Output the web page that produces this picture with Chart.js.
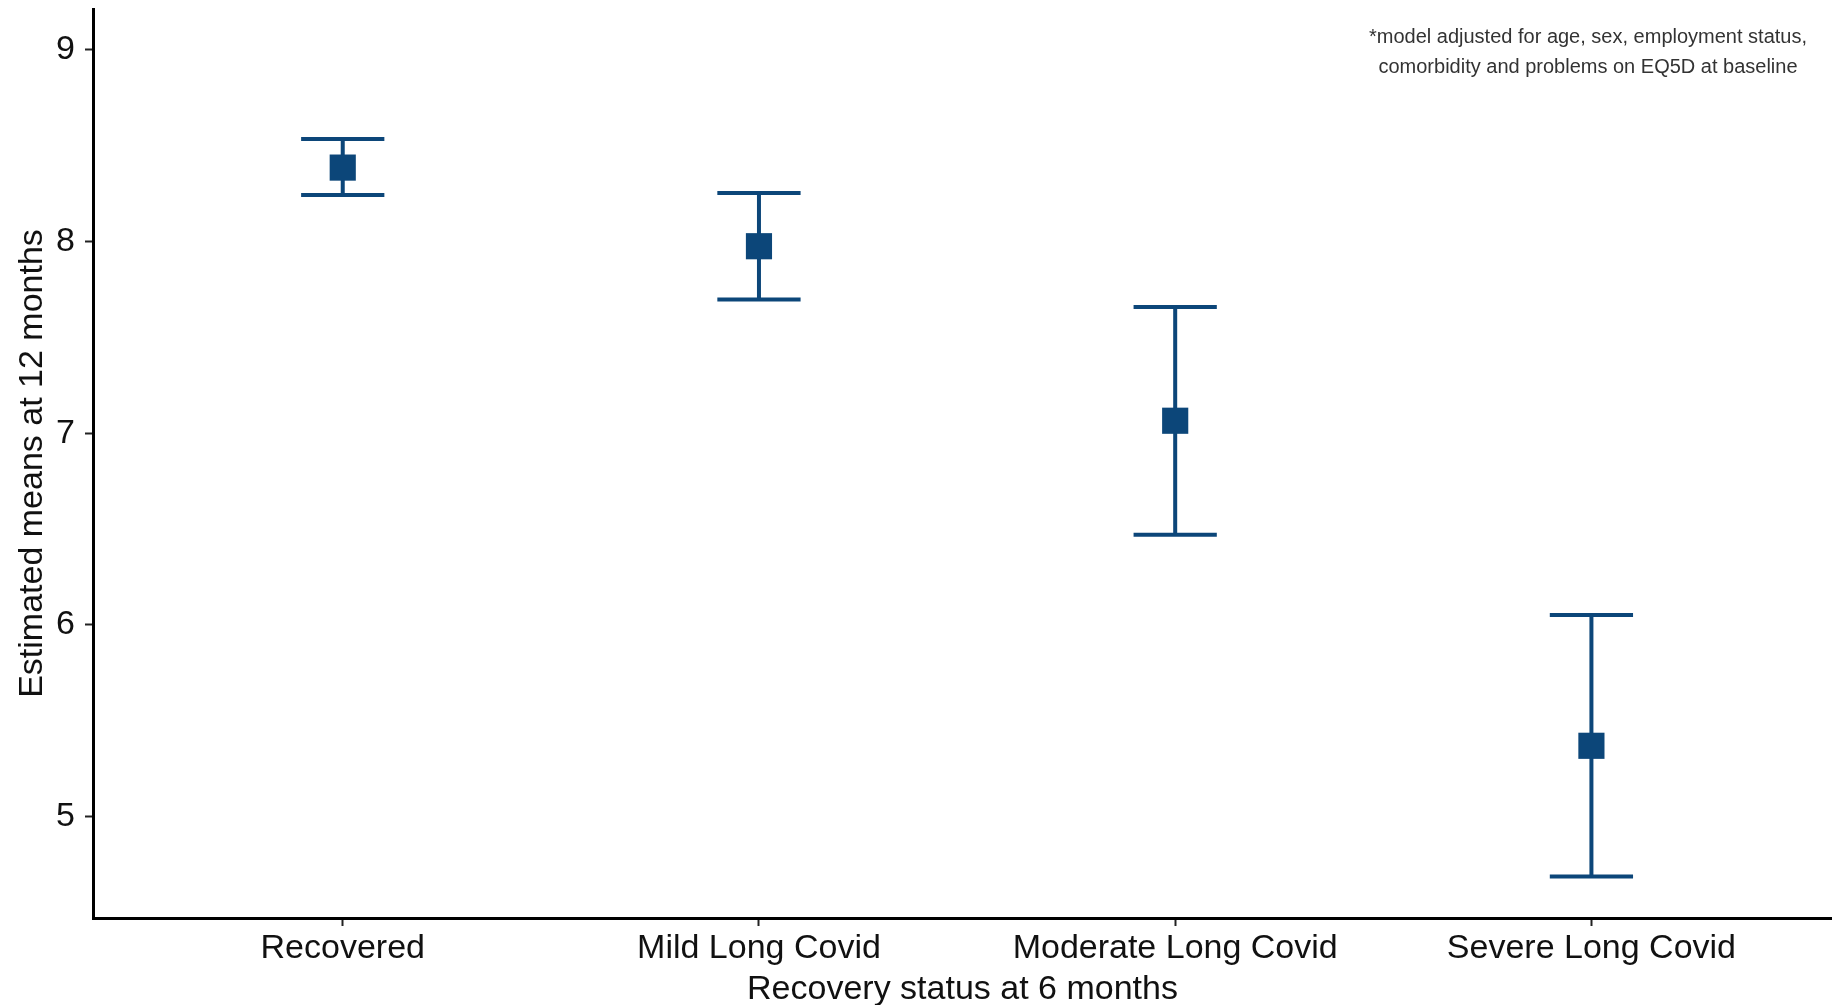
<!DOCTYPE html>
<html>
<head>
<meta charset="utf-8">
<script src="https://cdn.jsdelivr.net/npm/chart.js@4.4.1/dist/chart.umd.min.js"></script>
<style>
  html, body { margin: 0; padding: 0; background: #fff; }
  #wrap { width: 1832px; height: 1005px; }
</style>
</head>
<body>
<div id="wrap"><canvas id="means_chart"></canvas></div>
<script>
// estimated means at 12 months, by recovery status at 6 months
const categories = ['Recovered', 'Mild Long Covid', 'Moderate Long Covid', 'Severe Long Covid'];
const means   = [8.385, 7.975, 7.065, 5.370];
const lowerCI = [8.242, 7.697, 6.470, 4.689];
const upperCI = [8.534, 8.252, 7.658, 6.052];
const yTicks  = [5, 6, 7, 8, 9];
const noteLines = [
  '*model adjusted for age, sex, employment status,',
  'comorbidity and problems on EQ5D at baseline'
];

const FONT = '"Liberation Sans", Arial, Helvetica, sans-serif';
const BLUE = '#0c4679';

// error bars drawn under the squares, through the chart scales
const errorBars = {
  id: 'errorBars',
  beforeDatasetsDraw(chart) {
    const { ctx, scales: { x, y } } = chart;
    ctx.save();
    ctx.strokeStyle = BLUE;
    ctx.lineWidth = 4;
    ctx.lineCap = 'butt';
    categories.forEach((c, i) => {
      const px = x.getPixelForValue(i);
      const x0 = x.getPixelForValue(i - 0.1);
      const x1 = x.getPixelForValue(i + 0.1);
      const yl = y.getPixelForValue(lowerCI[i]);
      const yu = y.getPixelForValue(upperCI[i]);
      ctx.beginPath();
      ctx.moveTo(px, yu); ctx.lineTo(px, yl);
      ctx.moveTo(x0, yu); ctx.lineTo(x1, yu);
      ctx.moveTo(x0, yl); ctx.lineTo(x1, yl);
      ctx.stroke();
    });
    ctx.restore();
  }
};

// footnote in the top right corner
const footnote = {
  id: 'footnote',
  afterDraw(chart) {
    const { ctx } = chart;
    ctx.save();
    ctx.font = '20px ' + FONT;
    ctx.fillStyle = '#333';
    ctx.textAlign = 'center';
    ctx.textBaseline = 'middle';
    noteLines.forEach((t, i) => ctx.fillText(t, 1588, 37 + i * 30));
    ctx.restore();
  }
};

new Chart(document.getElementById('means_chart'), {
  type: 'scatter',
  data: {
    datasets: [{
      label: 'Estimated mean',
      data: means.map((m, i) => ({ x: i, y: m })),
      pointStyle: 'rect',
      pointRadius: 18.5,
      pointHoverRadius: 18.5,
      backgroundColor: BLUE,
      borderWidth: 0
    }]
  },
  options: {
    responsive: true,
    maintainAspectRatio: false,
    animation: false,
    layout: { autoPadding: false, padding: { top: 9, right: 0, bottom: 0, left: 0 } },
    plugins: { legend: { display: false }, tooltip: { enabled: false } },
    scales: {
      x: {
        type: 'linear',
        min: -0.6,
        max: 3.578,
        afterBuildTicks: s => { s.ticks = categories.map((c, i) => ({ value: i })); },
        afterFit: s => { s.height = 87; s.paddingLeft = 0; s.paddingRight = 0; },
        ticks: {
          callback: v => categories[v],
          font: { family: FONT, size: 34 },
          color: '#111',
          padding: 2,
          maxRotation: 0,
          autoSkip: false
        },
        grid: { drawOnChartArea: false, drawTicks: true, tickLength: 8, tickWidth: 2, tickColor: '#222' },
        border: { color: '#000', width: 3 },
        title: {
          display: true,
          text: 'Recovery status at 6 months',
          font: { family: FONT, size: 34, lineHeight: 1 },
          color: '#111',
          padding: { top: 0, bottom: -2 }
        }
      },
      y: {
        min: 4.472,
        max: 9.212,
        afterBuildTicks: s => { s.ticks = yTicks.map(v => ({ value: v })); },
        afterFit: s => { s.width = 93; s.paddingTop = 0; s.paddingBottom = 0; },
        ticks: {
          font: { family: FONT, size: 34 },
          color: '#111',
          padding: 10
        },
        grid: { drawOnChartArea: false, drawTicks: true, tickLength: 8, tickWidth: 2, tickColor: '#222' },
        border: { color: '#000', width: 3 },
        title: {
          display: true,
          text: 'Estimated means at 12 months',
          font: { family: FONT, size: 34, lineHeight: 1 },
          color: '#111',
          padding: { top: 16, bottom: 0 }
        }
      }
    }
  },
  plugins: [errorBars, footnote]
});
</script>
</body>
</html>
